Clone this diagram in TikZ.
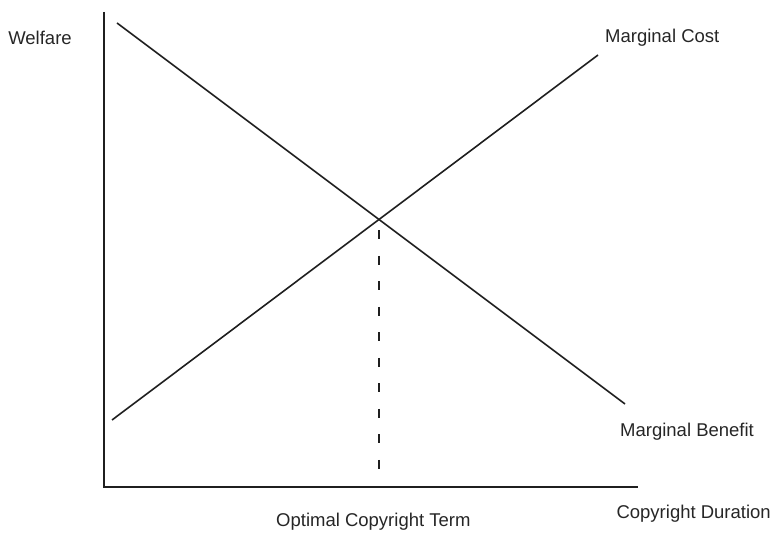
\documentclass[tikz,border=0pt]{standalone}
\usepackage{fontspec}
\setmainfont{Liberation Sans}
\usetikzlibrary{intersections}
\begin{document}
\begin{tikzpicture}[x=1pt,y=-1pt,
  axis/.style={line width=1.6pt,color=black!88},
  curve/.style={line width=1.6pt,color=black!88},
  guide/.style={line width=1.6pt,color=black!88,dash pattern=on 9pt off 16.5pt,dash phase=14.5pt},
  lbl/.style={inner sep=0pt,font=\fontsize{18.5}{22}\selectfont,text=black!85}]
\useasboundingbox (0,0) rectangle (778,534);
% axes
\coordinate (ytop) at (104,12);
\coordinate (orig) at (104,487);
\coordinate (xend) at (638,487);
\draw[axis] (ytop) -- (orig) -- (xend);
% curves
\coordinate (mbs) at (117,23);
\coordinate (mbe) at (625,404);
\coordinate (mcs) at (112,420);
\coordinate (mce) at (598,55);
\draw[curve,name path=mb] (mbs) -- (mbe);
\draw[curve,name path=mc] (mcs) -- (mce);
\path[name intersections={of=mb and mc,by=opt}];
\coordinate (optfoot) at (opt |- 0,469);
\draw[guide] (opt) -- (optfoot);
% labels
\node[lbl,anchor=center] (welfare) at (40,38) {Welfare};
\node[lbl,anchor=west] (mclbl) at (605,38) {Marginal Cost};
\node[lbl,anchor=west] (mblbl) at (620,432) {Marginal Benefit};
\node[lbl,anchor=east] (xlbl) at (771,514) {Copyright Duration};
\node[lbl,anchor=west] (optlbl) at (276,522) {Optimal Copyright Term};
\end{tikzpicture}
\end{document}
